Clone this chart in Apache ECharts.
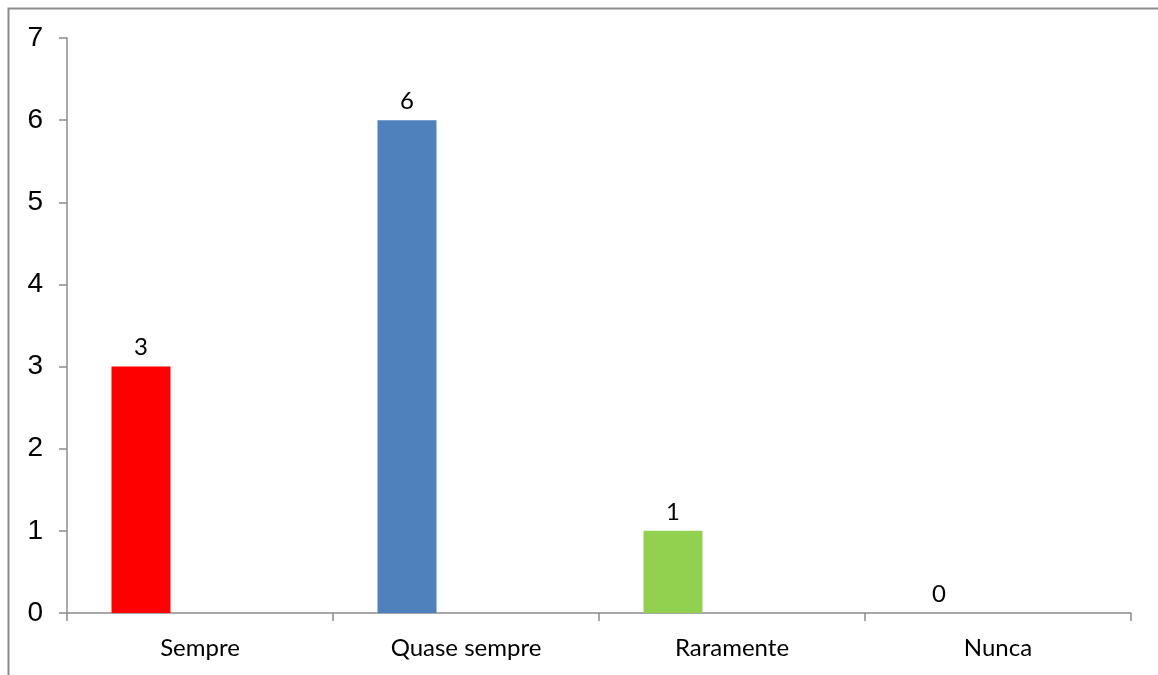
<!DOCTYPE html>
<html>
<head>
<meta charset="utf-8">
<script src="https://cdn.jsdelivr.net/npm/echarts@6/dist/echarts.min.js"></script>
<style>
  html, body { margin: 0; padding: 0; background: #fff; }
  #chart { width: 1158px; height: 675px; }
</style>
</head>
<body>
<div id="chart"></div>
<script>
var categories = ['Sempre', 'Quase sempre', 'Raramente', 'Nunca'];
var values = [3, 6, 1, 0];
var barColors = ['#FF0000', '#4F81BD', '#92D050', '#9BBB59'];

var chart = echarts.init(document.getElementById('chart'));

var option = {
  animation: false,
  // moldura cinzenta à volta do gráfico
  graphic: [{
    type: 'rect',
    shape: { x: 8.5, y: 8.5, width: 1200, height: 700 },
    style: { fill: 'none', stroke: '#8c8c8c', lineWidth: 2 },
    silent: true
  }],
  grid: {
    left: 67,
    right: 27,
    top: 38,
    bottom: 62
  },
  xAxis: {
    type: 'category',
    data: categories,
    axisLine: { lineStyle: { color: '#8c8c8c', width: 1.5 } },
    axisTick: { show: true, length: 8, alignWithLabel: false, lineStyle: { color: '#8c8c8c', width: 1.5 } },
    axisLabel: { color: '#000', fontSize: 24, fontFamily: 'Lato', margin: 23 }
  },
  yAxis: {
    type: 'value',
    min: 0,
    max: 7,
    interval: 1,
    splitLine: { show: false },
    axisLine: { show: true, lineStyle: { color: '#8c8c8c', width: 1.5 } },
    axisTick: { show: true, length: 8, lineStyle: { color: '#8c8c8c', width: 1.5 } },
    axisLabel: { color: '#000', fontSize: 28, fontFamily: 'Liberation Sans', margin: 24 }
  },
  series: [{
    type: 'bar',
    barWidth: 59,
    barGap: '100%',
    data: values.map(function (v, i) {
      return { value: v, itemStyle: { color: barColors[i] } };
    }),
    label: {
      show: true,
      position: 'top',
      distance: 7,
      color: '#000',
      fontSize: 24,
      fontFamily: 'Lato'
    }
  }, {
    // série vazia, só para deslocar as barras como no original
    type: 'bar',
    barWidth: 59,
    data: [null, null, null, null]
  }]
};

chart.setOption(option);
</script>
</body>
</html>
